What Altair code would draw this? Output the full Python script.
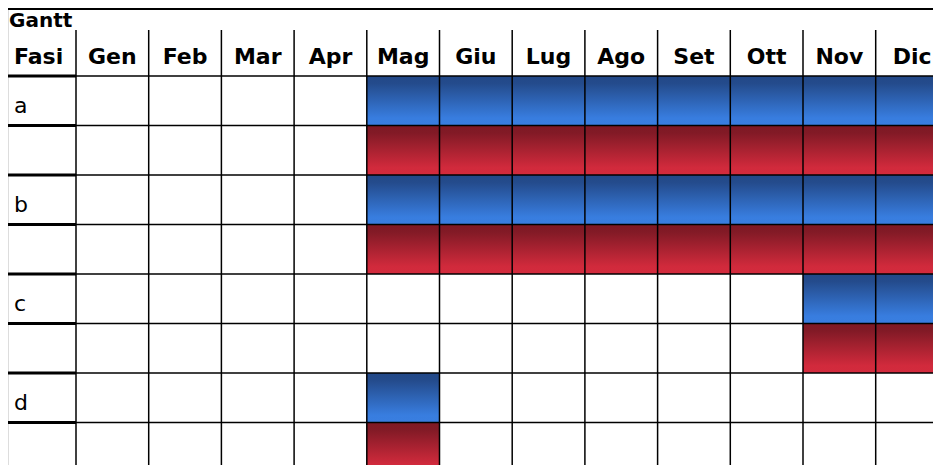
import altair as alt
import pandas as pd

# ---- data -------------------------------------------------------------
title_text = "Gantt"
first_header = "Fasi"
months = ["Gen", "Feb", "Mar", "Apr", "Mag", "Giu", "Lug", "Ago", "Set", "Ott", "Nov", "Dic"]
phases = ["a", "b", "c", "d"]
start_month = [5, 5, 11, 5]     # 1-based month where each phase starts
end_month = [12, 12, 12, 5]     # 1-based month where each phase ends
bar_kinds = ["blue", "red"]     # two bars for each phase

n_rows = len(phases) * len(bar_kinds)
n_cols = len(months)

# ---- tables built from the arrays --------------------------------------
cells = pd.DataFrame([
    {"x": s - 1, "x2": e, "y": 2 * i + j, "y2": 2 * i + j + 1, "kind": k}
    for i, (s, e) in enumerate(zip(start_month, end_month))
    for j, k in enumerate(bar_kinds)
])
vlines = pd.DataFrame({"k": list(range(n_cols)), "y0": -1, "y1": n_rows})
hlines = pd.DataFrame({"r": list(range(n_rows)), "x0": 0, "x1": n_cols, "xf": -1})
topline = pd.DataFrame({"y": [-2], "x0": [-1], "x1": [n_cols]})
title_df = pd.DataFrame({"label": [title_text], "x": [-1], "y": [-1]})
head_df = pd.DataFrame({"label": months, "x": [k + 0.5 for k in range(n_cols)], "y": -0.5})
fasi_df = pd.DataFrame({"label": [first_header], "x": [-1], "y": [-0.5]})
phase_df = pd.DataFrame({"label": phases, "x": -1, "y": [2 * i + 0.5 for i in range(len(phases))]})

# ---- scales --------------------------------------------------------------
COL_W = 72.7
ROW_H = 49.5
xs = alt.Scale(domain=[-1, 0, n_cols], range=[0, 68, 68 + COL_W * n_cols])
ys = alt.Scale(domain=[-2, -1, 0, n_rows], range=[0, 22, 68, 68 + ROW_H * n_rows])

FONT = "DejaVu Sans"

blue_grad = {
    "gradient": "linear", "x1": 0, "y1": 0, "x2": 0, "y2": 1,
    "stops": [
        {"offset": 0, "color": "#224887"},
        {"offset": 0.15, "color": "#244b8c"},
        {"offset": 0.85, "color": "#387ddf"},
        {"offset": 1, "color": "#397ee0"},
    ],
}
red_grad = {
    "gradient": "linear", "x1": 0, "y1": 0, "x2": 0, "y2": 1,
    "stops": [
        {"offset": 0, "color": "#7e1924"},
        {"offset": 0.15, "color": "#821a26"},
        {"offset": 0.85, "color": "#d12a3c"},
        {"offset": 1, "color": "#d32b3d"},
    ],
}

def X(f):
    return alt.X(f, type="quantitative", scale=xs, axis=None)

def Y(f):
    return alt.Y(f, type="quantitative", scale=ys, axis=None)

blue_rect = alt.Chart(cells).transform_filter(alt.datum.kind == "blue").mark_rect(
    fill=blue_grad, strokeWidth=0
).encode(x=X("x"), x2="x2", y=Y("y"), y2="y2")

red_rect = alt.Chart(cells).transform_filter(alt.datum.kind == "red").mark_rect(
    fill=red_grad, strokeWidth=0
).encode(x=X("x"), x2="x2", y=Y("y"), y2="y2")

vrules = alt.Chart(vlines).mark_rule(color="black", strokeWidth=1.5).encode(
    x=X("k"), y=Y("y0"), y2="y1"
)
hrules = alt.Chart(hlines).mark_rule(color="black", strokeWidth=1.5).encode(
    y=Y("r"), x=X("x0"), x2="x1"
)
hrules_fasi = alt.Chart(hlines).mark_rule(color="black", strokeWidth=3).encode(
    y=Y("r"), x=X("xf"), x2="x0"
)
top_rule = alt.Chart(topline).mark_rule(color="black", strokeWidth=2, yOffset=1).encode(
    y=Y("y"), x=X("x0"), x2="x1"
)

title_mark = alt.Chart(title_df).mark_text(
    align="left", baseline="alphabetic", dx=1, dy=-3,
    font=FONT, fontSize=20, fontWeight="bold", color="black"
).encode(x=X("x"), y=Y("y"), text="label:N")

head_mark = alt.Chart(head_df).mark_text(
    align="center", baseline="alphabetic", dy=10.5,
    font=FONT, fontSize=22, fontWeight="bold", color="black"
).encode(x=X("x"), y=Y("y"), text="label:N")

fasi_mark = alt.Chart(fasi_df).mark_text(
    align="left", baseline="alphabetic", dx=6, dy=10.5,
    font=FONT, fontSize=22, fontWeight="bold", color="black"
).encode(x=X("x"), y=Y("y"), text="label:N")

phase_mark = alt.Chart(phase_df).mark_text(
    align="left", baseline="alphabetic", dx=6, dy=12,
    font=FONT, fontSize=22, color="black"
).encode(x=X("x"), y=Y("y"), text="label:N")

chart = alt.layer(
    blue_rect, red_rect, vrules, hrules, hrules_fasi, top_rule,
    title_mark, head_mark, fasi_mark, phase_mark
).properties(
    width=925, height=457, autosize=alt.AutoSizeParams(type="none"), padding=0
).configure_view(stroke=None).configure(background="white")

chart.save("out.html", embed_options={"renderer": "svg", "actions": False})
